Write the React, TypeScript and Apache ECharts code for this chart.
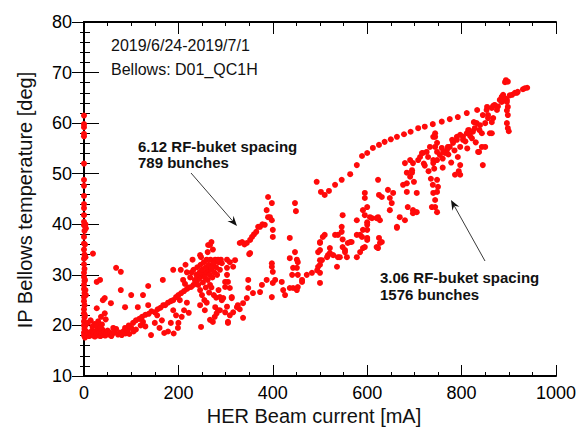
import React, { useEffect, useRef } from "react";
import * as echarts from "echarts";

// ---- Data (HER beam current [mA], bellows temperature [deg]) ----
const zeroCurrentPoints: number[][] = [
  [0, 61.5], [0, 59.8], [0, 59.2], [0, 57.9], [0, 57.4], [0, 52], [0, 48.8], [0, 47.6], [0, 45.6],
  [0, 44], [0, 43.2], [0, 41.8], [0, 40.5], [0, 39.8], [1, 38.7], [0, 37.5], [0, 36.2], [0, 35],
  [1, 34], [0, 33.2], [0, 32.1], [1, 31.2], [0, 30.4], [0, 29.6], [1, 28.8], [0, 28], [0, 27.2],
  [1, 26.4], [0, 25.6], [0, 24.8], [1, 24], [0, 23.2], [0, 22.4], [1, 21.6], [0, 20.8], [0, 20],
  [1, 19.3], [0, 18.6], [0, 18], [2, 17.6], [3, 40], [4, 39.2], [2, 36], [3, 33.5], [2, 29],
  [3, 27], [4, 26], [2, 22], [3, 20],
];

const lowCurrentBand: number[][] = [
  [3, 18.2], [5, 18.8], [7, 18], [9, 18.5], [11, 17.9], [13, 18.6], [15, 18.2], [17, 19], [19, 18],
  [21, 18.5], [23, 17.8], [25, 18.9], [27, 18.3], [29, 19.5], [31, 18], [33, 18.6], [35, 17.9],
  [37, 18.4], [39, 19.2], [41, 18.1], [43, 18.7], [45, 18], [47, 18.4], [50, 19], [52, 18.2],
  [55, 18.6], [58, 17.9], [60, 18.3], [64, 18.7], [68, 19.3], [72, 18.2], [76, 18.6], [80, 18.1],
  [84, 18.9], [88, 18.4], [92, 19], [96, 18.3], [100, 19.5], [105, 18.8], [110, 19.2], [8, 20.5],
  [14, 21], [22, 20.3], [30, 20.8], [38, 20.2], [46, 21.2], [18, 19.8], [26, 20], [34, 19.6],
  [62, 19.5], [91, 19.1], [125, 20.7],
];

const lowScatterPoints: number[][] = [
  [19, 34.2], [27, 28.6], [34, 29], [27, 23.4], [40, 25], [44, 22.4], [36, 21.7], [57, 24.4],
  [44, 25.4], [68, 31.4], [78, 30.6], [78, 27], [100, 26], [87, 23.6], [114, 23.6], [125, 26],
  [136, 27.8], [136, 24], [167, 29], [189, 31], [150, 20.5], [160, 19.5], [142, 18.1], [170, 18.5],
  [184, 20.5], [199, 19.5], [178, 18.8], [190, 18.4], [165, 21], [130, 19.8], [155, 22], [120, 20],
  [189, 23], [203, 25], [207, 21.7], [212, 23], [218, 24.5], [222, 22.5], [195, 22], [200, 20.5],
  [246, 24], [256, 23], [267, 21.1], [277, 21.7], [284, 23], [292, 25], [303, 23.7], [309, 22],
  [305, 20.5], [324, 23.6], [330, 23.2], [337, 21.5], [278, 23.6], [281, 22.4], [288, 23],
  [299, 22.6], [273, 20.7], [305, 20.7], [316, 22.6], [326, 24], [337, 24.4], [248, 19.7],
];

const lowBranchPoints: number[][] = [
  [87, 19.5], [95, 20], [104, 20.5], [110, 21], [117, 21.3], [123, 21.7], [130, 22.1], [137, 22.3],
  [143, 22.8], [150, 22.6], [156, 23.2], [162, 23.5], [168, 24], [172, 24], [178, 24.5],
  [184, 24.8], [189, 25], [195, 25.6], [200, 26], [206, 26.4], [212, 26.8], [218, 27.2],
  [222, 27.5], [227, 27.6], [232, 28], [236, 28.5], [240, 29], [244, 29.3], [248, 29.8], [252, 30],
  [256, 30.3], [260, 30.6], [264, 31], [268, 31.5],
  [225, 29.5], [228, 30.5], [232, 31], [235, 29], [238, 30], [240, 31.5], [242, 28], [245, 30.5],
  [247, 32], [250, 31], [252, 28.5], [254, 32.5], [256, 29.5], [258, 31.5], [260, 33], [262, 29],
  [264, 32], [266, 30], [268, 33], [270, 31], [272, 29.5], [274, 32], [276, 30.5], [278, 33],
  [280, 31.5], [282, 30], [285, 32.5], [288, 31], [290, 33], [246, 27], [250, 26], [255, 25],
  [260, 24.5], [265, 26.5], [270, 27.5], [275, 26], [280, 25.5], [285, 27], [258, 27.5],
  [248, 33.5], [262, 34.5], [270, 36.5], [267, 35.9], [273, 35], [214, 28.2], [218, 30.5],
  [210, 29], [205, 31], [215, 32], [230, 33], [246, 33.9], [263, 35.9], [274, 32.3], [284, 33],
  [292, 32.3], [303, 33], [303, 31.4], [303, 30], [305, 28.6], [309, 27.4], [313, 25.4],
  [299, 27.6], [299, 28.6], [295, 25.4], [288, 25.6], [313, 25.6], [267, 28], [270, 31.4],
  [320, 32.9], [316, 31.6], [309, 32.5],
];

const spacing612Points: number[][] = [
  [330, 36.3], [335, 36.5], [340, 36], [345, 36.3], [350, 34.1], [352, 36.9], [356, 37.5],
  [360, 38], [365, 38.5], [369, 39.5], [373, 39.5], [378, 40], [383, 39.9], [387, 42.8],
  [390, 41.4], [390, 45.4], [394, 41.4], [398, 44.2], [398, 40.8], [400, 38.9], [400, 37.5],
  [447, 44.2], [449, 42.6], [352, 34.3],
  [493, 48.4], [502, 46.4], [510, 45.8], [519, 46.6], [532, 47.8], [546, 48.8], [564, 49.9],
  [578, 51.7], [589, 53.5], [600, 54.1], [612, 55.1], [625, 55.7], [637, 56.3], [650, 56.8],
  [663, 57.3], [678, 57.8], [692, 58.3], [708, 59], [722, 59.3], [739, 59.8], [758, 60.3],
  [775, 60.8], [792, 61.2], [811, 62], [833, 62.6], [854, 63.2], [867, 63.4], [877, 63.3],
  [896, 64.6], [917, 66], [930, 66.7], [939, 67],
];

const spacing306Points: number[][] = [
  [345, 25.4], [348, 27.4], [348, 29], [358, 26.4], [373, 26.6], [377, 28], [387, 29],
  [398, 32.3], [398, 31.6], [400, 30.6], [400, 28.4], [398, 25.6], [405, 29], [419, 28.6],
  [422, 27], [426, 26], [436, 27.4], [443, 27.4], [453, 27.6], [462, 29], [441, 30], [453, 30],
  [472, 30], [483, 30.4], [443, 31.4], [453, 32.5], [436, 33.3], [447, 34.5], [436, 37.3],
  [451, 33], [451, 31.4], [451, 27], [462, 28.6], [494, 30.9], [500, 32], [496, 34.5], [500, 36.3],
  [500, 36.5], [500, 34.9], [500, 32.9], [496, 31.6], [500, 30.4], [517, 33.9], [500, 28.4],
  [504, 32.9], [515, 33.5], [506, 37.5], [510, 37.9], [521, 35.3], [521, 34.3], [528, 33.9],
  [536, 31.6], [538, 33.5], [532, 37.9], [538, 37.9], [546, 39.5], [546, 38.5], [548, 41.8],
  [548, 37], [548, 35.5], [553, 34.9], [557, 33.5], [559, 36.3], [567, 36.5], [578, 33.5],
  [578, 37.9], [578, 40.8], [589, 37.5], [591, 35.3], [591, 38.9], [591, 42.8], [595, 41.8],
  [595, 45.2], [595, 46.2], [600, 43.4], [600, 40.4], [600, 37.3], [610, 41.2], [620, 41.2],
  [627, 40.8], [625, 37.3], [627, 36.3], [620, 35.5], [542, 33.5], [553, 34.5], [564, 36.5],
  [585, 34.5], [595, 35.5], [600, 36.9], [600, 38.9], [600, 39.9], [585, 37.9], [606, 41.4],
  [623, 41.4], [631, 36.5], [623, 35.3],
  [623, 48.8], [625, 45.8], [631, 45.4], [644, 46.8], [648, 45.2], [652, 44.2], [648, 42.8],
  [655, 46.2], [663, 39.3], [663, 39.5], [669, 41.4], [680, 40.8], [684, 48.1], [691, 49.4],
  [695, 50.7], [697, 52.1], [708, 52.7], [712, 53.3], [718, 54.1], [726, 54.3], [697, 42.8],
  [705, 42.4], [686, 43.4], [697, 42.2], [740, 46.2], [744, 43.4], [748, 42.4], [739, 47.8],
  [750, 47.4], [748, 46.4], [744, 44.8], [737, 43.4], [786, 49.8], [797, 49.8],
  [680, 52.1], [684, 50.2], [676, 47.8], [684, 46.4], [691, 52.7], [695, 50.2], [699, 48.4],
  [705, 46.2], [716, 54.1], [720, 52], [729, 53.3], [733, 55.3], [740, 57.3], [744, 58],
  [748, 56.1], [748, 54.3], [740, 52.7], [742, 51], [748, 48.8], [758, 55.1], [765, 54.1],
  [771, 55.3], [780, 56.7], [790, 57.3], [797, 55.3], [792, 53.3], [797, 51.7], [794, 50.5],
  [803, 56.7], [814, 58.6], [818, 57.5], [828, 59], [832, 60], [843, 58], [843, 55.3], [835, 54.3],
  [845, 51.7], [850, 55.3], [856, 61.6], [860, 58], [864, 63], [867, 61], [875, 62.6],
  [881, 64.6], [885, 65.2], [888, 65.6], [896, 64.2], [898, 63.2], [896, 62.5], [898, 61.6],
  [896, 60], [898, 59], [900, 58.4], [907, 65.6], [913, 66], [919, 66.2], [934, 66.9],
  [902, 65.5], [892, 64.9], [885, 64.2], [870, 63.6], [853, 62.6], [845, 61.6], [856, 61],
  [864, 60.2], [850, 60], [839, 59.6], [824, 58.3], [816, 58.6], [811, 58], [803, 57.3],
  [797, 57.7], [790, 56.7], [782, 56.1], [775, 55.3], [769, 54.7], [761, 54.3], [754, 53.7],
  [748, 52.7], [740, 52.1], [744, 57.3], [744, 55.3], [864, 58], [837, 54.3],
  [892, 68.1], [894, 68.5], [898, 68.2],
  [760, 53], [772, 53.8], [785, 54.6], [808, 56.4], [822, 57], [838, 58.6], [826, 60.2],
  [730, 50.5], [735, 49], [722, 51.6], [760, 51.2], [778, 52.2], [812, 55], [830, 56.2],
];

const annotationLines: string[] = ["2019/6/24-2019/7/1", "Bellows: D01_QC1H"];
const spacing612Label: string[] = ["6.12 RF-buket spacing", "789 bunches"];
const spacing306Label: string[] = ["3.06 RF-buket spacing", "1576 bunches"];
const xTitle = "HER Beam current [mA]";
const yTitle = "IP Bellows temperature [deg]";

const FONT = "'Liberation Sans', Arial, sans-serif";

function arrow(x1: number, y1: number, x2: number, y2: number) {
  const dx = x2 - x1;
  const dy = y2 - y1;
  const len = Math.sqrt(dx * dx + dy * dy);
  const ux = dx / len;
  const uy = dy / len;
  const nx = -uy;
  const ny = ux;
  const L = 10;
  const W = 4;
  const bx = x2 - ux * L;
  const by = y2 - uy * L;
  const notchX = x2 - ux * L * 0.65;
  const notchY = y2 - uy * L * 0.65;
  return [
    {
      type: "line",
      shape: { x1, y1, x2: notchX, y2: notchY },
      style: { stroke: "#3a3a3a", lineWidth: 1 },
      silent: true,
    },
    {
      type: "polygon",
      shape: {
        points: [
          [x2, y2],
          [bx + nx * W, by + ny * W],
          [notchX, notchY],
          [bx - nx * W, by - ny * W],
        ],
      },
      style: { fill: "#111" },
      silent: true,
    },
  ];
}

function textEl(text: string, x: number, y: number, font: string, extra: any = {}) {
  return {
    type: "text",
    x,
    y,
    silent: true,
    ...extra,
    style: {
      text,
      font,
      fill: "#111",
      textAlign: extra.align || "left",
      align: extra.align || "left",
      textVerticalAlign: "middle",
      verticalAlign: "middle",
    },
  };
}

export default function App() {
  const ref = useRef<HTMLDivElement>(null);

  useEffect(() => {
    if (!ref.current) return;
    const chart = echarts.init(ref.current, undefined, { renderer: "svg" });

    const allPoints = [
      ...zeroCurrentPoints,
      ...lowCurrentBand,
      ...lowScatterPoints,
      ...lowBranchPoints,
      ...spacing612Points,
      ...spacing306Points,
    ];

    const axisLine = { show: true, lineStyle: { color: "#000", width: 2 } };
    const labelStyle = { color: "#000", fontSize: 18, fontFamily: FONT };
    const tickStyle = { color: "#000", width: 1 };

    const majorX = (position: string, len: number, labels: boolean) => ({
      type: "value",
      min: 0,
      max: 1000,
      interval: 200,
      position,
      axisLine,
      axisTick: { show: true, inside: true, length: len, lineStyle: tickStyle },
      axisLabel: labels
        ? { ...labelStyle, margin: 8, formatter: (v: number) => String(v) }
        : { show: false },
      splitLine: { show: false },
    });
    const minorX = (position: string) => ({
      type: "value",
      min: 0,
      max: 1000,
      interval: 50,
      position,
      axisLine: { show: false },
      axisTick: { show: true, inside: true, length: 4, lineStyle: tickStyle },
      axisLabel: { show: false },
      splitLine: { show: false },
    });
    const majorY = (position: string, len: number, labels: boolean) => ({
      type: "value",
      min: 10,
      max: 80,
      interval: 10,
      position,
      axisLine,
      axisTick: { show: true, inside: true, length: len, lineStyle: tickStyle },
      axisLabel: labels
        ? { ...labelStyle, margin: 12, formatter: (v: number) => String(v) }
        : { show: false },
      splitLine: { show: false },
    });
    const minorY = (position: string, len: number) => ({
      type: "value",
      min: 10,
      max: 80,
      interval: 2,
      position,
      axisLine: { show: false },
      axisTick: { show: true, inside: true, length: len, lineStyle: tickStyle },
      axisLabel: { show: false },
      splitLine: { show: false },
    });

    const option: any = {
      animation: false,
      backgroundColor: "#fff",
      grid: { left: 84, top: 22, right: 23, bottom: 51, containLabel: false },
      xAxis: [
        majorX("bottom", 11, true),
        majorX("top", 12, false),
        minorX("bottom"),
        minorX("top"),
      ],
      yAxis: [
        majorY("left", 15, true),
        majorY("right", 12, false),
        minorY("left", 6),
        minorY("right", 4),
      ],
      series: [
        {
          type: "scatter",
          xAxisIndex: 0,
          yAxisIndex: 0,
          data: allPoints,
          symbol: "circle",
          symbolSize: 6,
          itemStyle: { color: "#ff0a0a", opacity: 1 },
          emphasis: { disabled: true },
        },
      ],
      graphic: [
        textEl(annotationLines[0], 111, 45, `16px ${FONT}`),
        textEl(annotationLines[1], 111, 69, `16px ${FONT}`),
        textEl(spacing612Label[0], 138, 146, `bold 15px ${FONT}`),
        textEl(spacing612Label[1], 138, 162, `bold 15px ${FONT}`),
        textEl(spacing306Label[0], 380, 277, `bold 15px ${FONT}`),
        textEl(spacing306Label[1], 380, 294, `bold 15px ${FONT}`),
        textEl(xTitle, 314, 416, `20px ${FONT}`, { align: "center" }),
        textEl(yTitle, 25, 200, `20px ${FONT}`, { align: "center", rotation: Math.PI / 2 }),
        ...arrow(191, 173, 237, 226),
        ...arrow(485, 261, 451, 200),
      ],
    };

    chart.setOption(option);
    return () => chart.dispose();
  }, []);

  return (
    <div
      ref={ref}
      style={{ position: "fixed", left: 0, top: 0, width: 579, height: 427, background: "#fff" }}
    />
  );
}
